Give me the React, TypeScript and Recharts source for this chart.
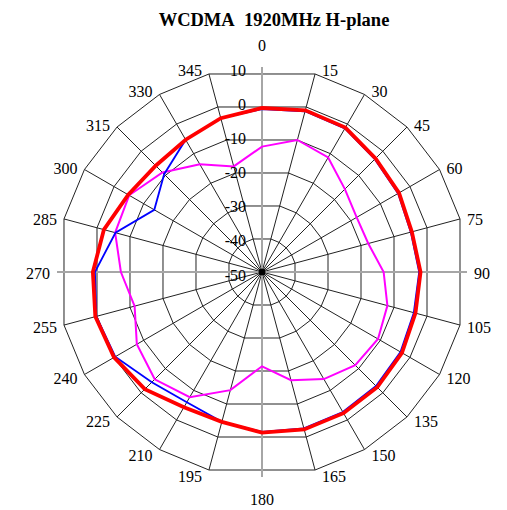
// App.tsx
import { RadarChart, Radar, PolarGrid, PolarAngleAxis, PolarRadiusAxis, Customized } from "recharts";

const angles = ["0", "15", "30", "45", "60", "75", "90", "105", "120", "135", "150", "165",
    "180", "195", "210", "225", "240", "255", "270", "285", "300", "315", "330", "345"];

// dB
const redValues = [-2, -1, -1.2, -3, -3.7, -4.6, -3.6, -3.5, -2.7, -2.3, -2.3, -2.3,
    -3, -4.6, -4.3, -1.5, 0, 0.5, -0.5, -2.1, -4.8, -6, -5.3, -3.4];
const blueValues = [-2.3, -1.3, -1.5, -3.3, -4, -4.9, -4, -4, -3.2, -2.8, -2.7, -2.6,
    -3.2, -4.6, -6, -4.4, -0.4, 0.2, -1.1, -5.6, -13.6, -9.5, -5.3, -3.4];
const magentaValues = [-13.3, -10, -11.3, -15.7, -18, -17.8, -14.4, -12, -10.8, -11.4, -13.8, -17.2,
    -22.4, -14.2, -7.7, -5.6, -7.7, -11.4, -8.7, -5.5, -5.1, -8.8, -13.6, -18];

const radialTicks = [-50, -40, -30, -20, -10, 0, 10];

const TITLE = "WCDMA\u00a0\u00a01920MHz H-plane";

const W = 491;
const H = 502;
const CX = 254;
const CY = 264;
const OUTER = 205;
const FONT = '"Liberation Serif", "Times New Roman", serif';

const data = angles.map((a, i) => ({
    angle: a,
    red: redValues[i],
    blue: blueValues[i],
    magenta: magentaValues[i],
}));

// black spokes everywhere except the four gray axes
const spokeAngles = angles
    .map((a) => Number(a))
    .filter((a) => a % 90 !== 0)
    .map((a) => 90 - a);

function AngleTick(props: any) {
    const { payload } = props;
    const deg = Number(payload.value);
    const rad = (deg * Math.PI) / 180;
    const s = Math.sin(rad);
    const c = Math.cos(rad);
    const vx = CX + OUTER * s;
    const vy = CY - OUTER * c;
    let x = vx;
    let y = vy;
    let anchor = "middle";
    if (Math.abs(s) < 1e-6) {
        y = vy - c * 22;
    } else {
        x = vx + (s > 0 ? 7 : -7);
        y = vy - 5 * c + 1.5;
        anchor = s > 0 ? "start" : "end";
    }
    return (
        <text x={x} y={y} textAnchor={anchor} dominantBaseline="central"
            fontFamily={FONT} fontSize={16} fill="#000">
            {payload.value}
        </text>
    );
}

function RadiusTick(props: any) {
    const { x, y, payload } = props;
    return (
        <text x={x - 16} y={y + 3} textAnchor="end" dominantBaseline="central"
            fontFamily={FONT} fontSize={16} fill="#000">
            {payload.value}
        </text>
    );
}

// gray cross through the centre, as in the Excel plot
function CrossAxes() {
    return (
        <g>
            <line x1={CX} y1={CY - OUTER} x2={CX} y2={CY + OUTER} stroke="#a6a6a6" strokeWidth={2} />
            <line x1={CX - OUTER} y1={CY} x2={CX + OUTER} y2={CY} stroke="#a6a6a6" strokeWidth={2} />
            <circle cx={CX} cy={CY} r={3.5} fill="#000" />
        </g>
    );
}

export default function App() {
    return (
        <div style={{ position: "relative", width: W, height: H }}>
            <RadarChart width={W} height={H} data={data} cx={CX} cy={CY} outerRadius={OUTER}
                startAngle={90} endAngle={-270}>
                <PolarGrid gridType="polygon" polarAngles={spokeAngles} stroke="#222" strokeWidth={1} />
                <Customized component={CrossAxes} />
                <PolarAngleAxis dataKey="angle" tick={(p: any) => <AngleTick {...p} />}
                    axisLine={false} tickLine={false} />
                <PolarRadiusAxis angle={90} domain={[-50, 10]} ticks={radialTicks as any}
                    tickCount={7} axisLine={false} tickLine={false}
                    tick={(p: any) => <RadiusTick {...p} />} />
                <Radar dataKey="magenta" stroke="#ff00ff" strokeWidth={2} fill="none" fillOpacity={0}
                    dot={false} isAnimationActive={false} />
                <Radar dataKey="blue" stroke="#0000ff" strokeWidth={1.8} fill="none" fillOpacity={0}
                    dot={false} isAnimationActive={false} />
                <Radar dataKey="red" stroke="#ff0000" strokeWidth={3.8} fill="none" fillOpacity={0}
                    dot={false} isAnimationActive={false} />
            </RadarChart>
            <svg width={W} height={30} style={{ position: "absolute", left: 0, top: 0, pointerEvents: "none" }}>
                <text x={266} y={18} textAnchor="middle" fontFamily={FONT} fontSize={18.5}
                    fontWeight="bold" fill="#000">
                    {TITLE}
                </text>
            </svg>
        </div>
    );
}
